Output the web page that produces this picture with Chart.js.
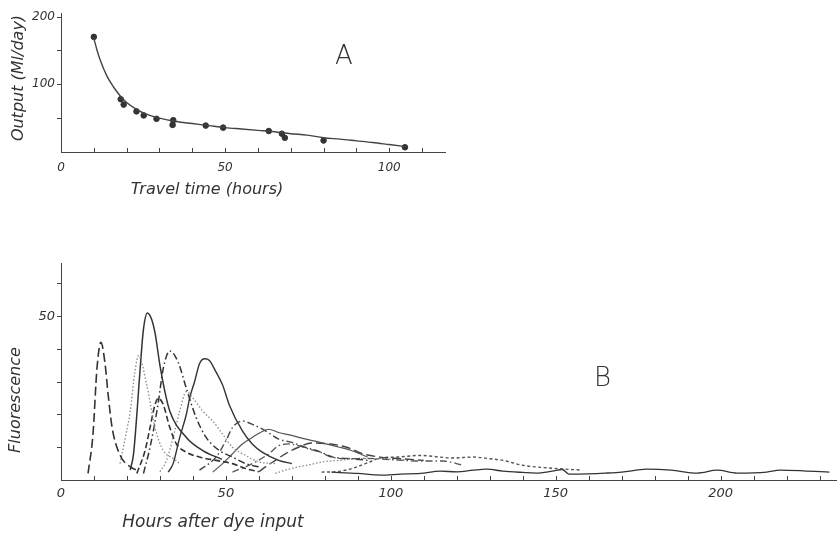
<!DOCTYPE html>
<html>
<head>
<meta charset="utf-8">
<script src="https://cdn.jsdelivr.net/npm/chart.js@4.4.1/dist/chart.umd.min.js"></script>
<style>
  body { margin: 0; background: #fff; width: 837px; height: 535px; position: relative; overflow: hidden;
         font-family: 'DejaVu Sans', sans-serif; color: #333; }
  #wrapA { position: absolute; left: 0; top: 0; }
  #wrapB { position: absolute; left: 0; top: 250px; }
  .lbl { position: absolute; font-style: italic; white-space: nowrap; text-align: center; color: #333; }
  .rot { transform: rotate(-90deg); transform-origin: center center; }
  .big { position: absolute; font-size: 26px; font-weight: 300; color: #333; }
</style>
</head>
<body>
<div id="wrapA"><canvas id="chartA" width="460" height="210"></canvas></div>
<div id="wrapB"><canvas id="chartB" width="837" height="285"></canvas></div>

<div class="lbl rot" style="left:-54px; top:68px; width:144px; height:20px; font-size:16px;">Output (Ml/day)</div>
<div class="lbl" style="left:107px; top:179px; width:200px; font-size:16px;">Travel time (hours)</div>
<div class="big" style="left:335px; top:40px;">A</div>

<div class="lbl rot" style="left:-47px; top:390px; width:124px; height:20px; font-size:16px;">Fluorescence</div>
<div class="lbl" style="left:103px; top:511px; width:220px; font-size:17px;">Hours after dye input</div>
<div class="big" style="left:594px; top:362px;">B</div>

<script>
// Panel A: measured points
var travelTime = [10, 18.2, 19.1, 23, 25.2, 29.1, 34.2, 34, 44.1, 49.4, 63.3, 67.3, 68.2, 80, 104.8];
var output     = [170, 78, 70, 60, 54, 49, 47, 40, 39, 36, 31, 27, 21, 17, 7];

// Panel A: fitted curve
var curveTime   = [10, 11, 12, 14, 16, 18, 20, 23, 26, 30, 35, 40, 45, 50, 55, 60, 65, 70, 75, 80, 85, 90, 95, 100, 105];
var curveOutput = [168, 150, 135, 112, 96, 83, 73, 63, 56, 50, 45, 42, 39, 36, 34, 32, 30, 27, 25, 21, 19, 16.5, 14, 11, 8];

// Panel A axis ticks
var aXTicks  = [0, 10, 20, 30, 40, 50, 60, 70, 80, 90, 100, 110];
var aXLabels = [0, 50, 100];
var aYTicks  = [0, 50, 100, 150, 200];
var aYLabels = [100, 200];

// Panel B: dye traces (hours, fluorescence)
var hoursA = [8.2, 9.7, 10.9, 12.1, 13.3, 14.3, 15.5, 17.9, 21, 23];
var fluorA = [2, 14, 34, 42, 36, 26, 16, 7.6, 4, 3];

var hoursB = [17.9, 19.5, 21, 22.4, 23.5, 26, 28.5, 31, 34, 36];
var fluorB = [5, 13, 21, 33, 38, 29, 16, 9, 6.6, 5];

var hoursC = [21, 22, 23, 24, 25, 26.2, 27.5, 28.5, 30, 31.5, 33, 38, 43, 48.8];
var fluorC = [3, 8, 20, 34, 46, 51, 49, 45, 35, 27, 21, 13, 9, 6.3];

var hoursD = [25, 27, 29.4, 31, 33, 35.5, 38, 41, 44, 48, 52, 56, 60];
var fluorD = [2, 10, 23, 34, 39.4, 36, 28, 19, 13, 9, 7, 5, 4];

var hoursE = [23, 25.5, 27, 28.5, 29.5, 31, 33, 35, 38, 42, 47, 52, 56, 60];
var fluorE = [2, 9, 16, 23, 25, 23, 16, 11, 8.5, 7, 6, 5, 3.5, 2.5];

var hoursF = [30, 32, 34, 36, 38, 40, 43, 46, 49, 52, 56, 60, 65.5];
var fluorF = [2.5, 6, 13, 21, 27, 25, 21, 18, 14, 10, 7.5, 5.5, 5];

var hoursG = [32.5, 34, 36, 38, 39, 40.5, 42, 43.6, 45, 47, 49, 51, 55, 58, 61, 66, 70];
var fluorG = [2.4, 5, 13, 20, 25, 30, 35.5, 37, 36.5, 33, 29, 23, 15, 11, 8.5, 6, 5];

var hoursH = [42, 47, 50, 52, 55, 58, 62, 66, 70, 74, 77.5, 82.5, 88, 93];
var fluorH = [3, 7, 12, 16, 18, 17, 15, 12.5, 11.5, 10, 9, 7, 6.5, 6];

var hoursI = [46, 49, 52, 55, 58, 60.5, 63, 66, 70, 72, 78.5, 84.5, 88, 90.6, 93];
var fluorI = [2.4, 5, 8, 11, 13, 14.5, 15.5, 14.5, 13.6, 13, 11.5, 10, 9, 8, 7];

var hoursJ = [52, 58, 63, 66, 69, 72, 75, 78.5, 82, 87, 93, 100, 109, 115.8, 122];
var fluorJ = [2.4, 5, 8, 10.5, 11, 10.5, 9.5, 8.5, 7, 6.5, 6.6, 6.2, 5.8, 5.8, 4.5];

var hoursK = [60, 62, 65, 68, 72, 76, 81.5, 86.6, 91.5, 96.7, 103, 110];
var fluorK = [2.5, 4, 6, 8, 10, 11.3, 11, 10, 8, 7, 6.5, 6];

var hoursL = [65, 68, 72, 76, 79, 84.5, 90, 96, 102, 106];
var fluorL = [2, 3, 4, 4.8, 5.5, 6, 6.5, 6.5, 6.3, 6];

var hoursM = [79, 84, 88.5, 93.6, 96.7, 102, 108.8, 113, 118.8, 125, 130, 134, 140, 149, 158];
var fluorM = [2.4, 2.6, 3.6, 5.5, 6.7, 7, 7.5, 7.2, 6.7, 7, 6.5, 6, 4.5, 3.6, 3];

var hoursN = [82, 90, 97, 103, 109, 115, 120, 125, 129, 134, 140, 144, 149, 152, 154, 160, 165, 170, 177.6, 185, 193, 199, 205, 214, 218, 225, 233];
var fluorN = [2.4, 2, 1.5, 1.8, 2, 2.7, 2.5, 3, 3.3, 2.7, 2.3, 2.1, 2.7, 3.2, 1.8, 1.9, 2.1, 2.4, 3.3, 3, 2.1, 3, 2.1, 2.4, 3, 2.8, 2.4];

// Panel B axis ticks
var bXTicks  = [0, 10, 20, 30, 40, 50, 60, 70, 80, 90, 100, 110, 120, 130, 140, 150, 160, 170, 180, 190, 200, 210, 220, 230];
var bXLabels = [0, 50, 100, 150, 200];
var bYTicks  = [0, 10, 20, 30, 40, 50, 60];
var bYLabels = [50];

// line styles
var SOLID = [], LONGDASH = [9, 4], DASH = [6, 3], DASHDOT = [7, 3, 1.5, 3], DOT = [1.5, 2], SHORTDASH = [3, 2.5];
var INK = '#333', PALE = '#8a8a8a';

function pairs(xs, ys) {
  var out = [];
  for (var i = 0; i < xs.length; i++) out.push({x: xs[i], y: ys[i]});
  return out;
}

function trace(xs, ys, dash, color, width) {
  return {
    data: pairs(xs, ys),
    borderColor: color,
    borderWidth: width,
    borderDash: dash,
    pointRadius: 0,
    cubicInterpolationMode: 'monotone',
    fill: false
  };
}

// small inward tick marks on x, outward on y
var tickMarks = {
  id: 'tickMarks',
  afterDraw: function (chart, args, opts) {
    var ctx = chart.ctx, xs = chart.scales.x, ys = chart.scales.y;
    ctx.save();
    ctx.strokeStyle = '#444';
    ctx.lineWidth = 1;
    ctx.beginPath();
    opts.xTicks.forEach(function (v) {
      if (v === 0) return;
      var px = Math.round(xs.getPixelForValue(v)) + 0.5;
      ctx.moveTo(px, xs.top);
      ctx.lineTo(px, xs.top - 4);
    });
    opts.yTicks.forEach(function (v) {
      if (v === 0) return;
      var py = Math.round(ys.getPixelForValue(v)) + 0.5;
      ctx.moveTo(ys.right, py);
      ctx.lineTo(ys.right - 4, py);
    });
    ctx.stroke();
    ctx.restore();
  }
};

function axes(xMax, yMax, xTicks, xLabels, yTicks, yLabels, xBoxH, xPad, fontSize) {
  var tickFont = {family: 'DejaVu Sans', size: fontSize, style: 'italic'};
  return {
    x: {
      type: 'linear', min: 0, max: xMax,
      grid: {display: true, drawOnChartArea: false, drawTicks: false},
      border: {color: '#444', width: 1},
      afterBuildTicks: function (s) { s.ticks = xTicks.map(function (v) { return {value: v}; }); },
      ticks: {
        autoSkip: false, maxRotation: 0, padding: xPad,
        color: '#333', font: tickFont,
        callback: function (v) { return xLabels.indexOf(v) >= 0 ? v : ''; }
      },
      afterFit: function (s) { s.height = xBoxH; }
    },
    y: {
      type: 'linear', min: 0, max: yMax,
      grid: {display: true, drawOnChartArea: false, drawTicks: false},
      border: {color: '#444', width: 1},
      afterBuildTicks: function (s) { s.ticks = yTicks.map(function (v) { return {value: v}; }); },
      ticks: {
        autoSkip: false, padding: 6,
        color: '#333', font: tickFont,
        callback: function (v) { return yLabels.indexOf(v) >= 0 ? v : ''; }
      },
      afterFit: function (s) { s.width = 61; }
    }
  };
}

Chart.defaults.font.family = 'DejaVu Sans';

new Chart(document.getElementById('chartA'), {
  type: 'line',
  data: {
    datasets: [
      {
        data: pairs(curveTime, curveOutput),
        borderColor: '#444', borderWidth: 1.4, pointRadius: 0,
        cubicInterpolationMode: 'monotone', fill: false
      },
      {
        data: pairs(travelTime, output),
        showLine: false, pointRadius: 2.8,
        pointBackgroundColor: INK, pointBorderColor: INK
      }
    ]
  },
  options: {
    responsive: false,
    animation: false,
    layout: {padding: {top: 10, right: 15, left: 0, bottom: 0}},
    plugins: {legend: {display: false}, tooltip: {enabled: false},
              tickMarks: {xTicks: aXTicks, yTicks: aYTicks}},
    scales: axes(117, 205, aXTicks, aXLabels, aYTicks, aYLabels, 58, 9, 12)
  },
  plugins: [tickMarks]
});

new Chart(document.getElementById('chartB'), {
  type: 'line',
  data: {
    datasets: [
      trace(hoursA, fluorA, LONGDASH, INK, 1.6),
      trace(hoursB, fluorB, DOT, PALE, 1.3),
      trace(hoursC, fluorC, SOLID, INK, 1.5),
      trace(hoursD, fluorD, DASHDOT, INK, 1.5),
      trace(hoursE, fluorE, DASH, INK, 1.6),
      trace(hoursF, fluorF, DOT, PALE, 1.3),
      trace(hoursG, fluorG, SOLID, INK, 1.4),
      trace(hoursH, fluorH, DASHDOT, '#444', 1.4),
      trace(hoursI, fluorI, SOLID, '#555', 1.2),
      trace(hoursJ, fluorJ, DASHDOT, '#555', 1.3),
      trace(hoursK, fluorK, LONGDASH, '#444', 1.4),
      trace(hoursL, fluorL, DOT, PALE, 1.3),
      trace(hoursM, fluorM, SHORTDASH, '#555', 1.4),
      trace(hoursN, fluorN, SOLID, INK, 1.3)
    ]
  },
  options: {
    responsive: false,
    animation: false,
    layout: {padding: {top: 12, right: 1, left: 0, bottom: 0}},
    plugins: {legend: {display: false}, tooltip: {enabled: false},
              tickMarks: {xTicks: bXTicks, yTicks: bYTicks}},
    scales: axes(235, 66, bXTicks, bXLabels, bYTicks, bYLabels, 55, 6, 13)
  },
  plugins: [tickMarks]
});
</script>
</body>
</html>
